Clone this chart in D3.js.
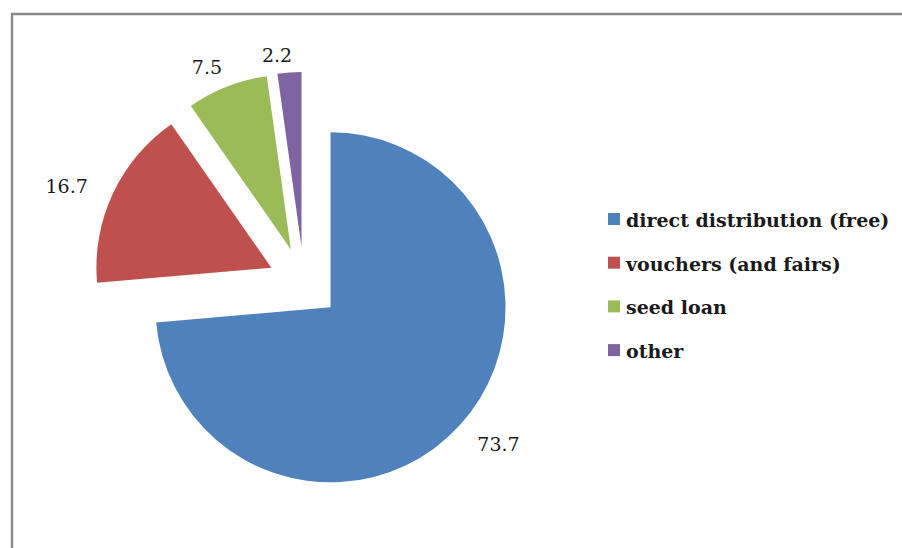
<!DOCTYPE html>
<html>
<head>
<meta charset="utf-8">
<script src="https://cdn.jsdelivr.net/npm/d3@7"></script>
<style>
  html, body { margin: 0; padding: 0; background: #fff; }
  svg { display: block; }
  text { font-family: "DejaVu Serif", "Liberation Serif", serif; fill: #1a1a1a; }
</style>
</head>
<body>
<svg id="chart" width="902" height="548"></svg>
<script>
const categories = ["direct distribution (free)", "vouchers (and fairs)", "seed loan", "other"];
const values = [73.7, 16.7, 7.5, 2.2];
const labels = ["73.7", "16.7", "7.5", "2.2"];
const colors = ["#4F81BD", "#C0504D", "#9BBB59", "#8064A2"];

const W = 902, H = 548;
const svg = d3.select("#chart");

// frame
svg.append("path")
  .attr("d", `M12,${H + 5} L12,14 L${W + 5},14`)
  .attr("fill", "none")
  .attr("stroke", "#8a8a8a")
  .attr("stroke-width", 2.4);

const cx = 304, cy = 283, R = 175, explode = 36, labelGap = 7;
const labelAngleShift = -3.3 * Math.PI / 180;

const pie = d3.pie().sort(null).value(d => d).startAngle(0).endAngle(2 * Math.PI);
const arcs = pie(values);
const arc = d3.arc().innerRadius(0).outerRadius(R);

const g = svg.append("g").attr("transform", `translate(${cx},${cy})`);

const slice = g.selectAll("g.slice").data(arcs).enter().append("g")
  .attr("class", "slice")
  .attr("transform", d => {
    const a = (d.startAngle + d.endAngle) / 2;
    return `translate(${explode * Math.sin(a)},${-explode * Math.cos(a)})`;
  });

slice.append("path")
  .attr("d", arc)
  .attr("fill", (d, i) => colors[i]);

// labels outside end
slice.append("text")
  .attr("font-size", 19)
  .attr("text-anchor", "middle")
  .attr("dy", "0.36em")
  .text((d, i) => labels[i])
  .each(function(d) {
    const a = (d.startAngle + d.endAngle) / 2 + labelAngleShift;
    const ux = Math.sin(a), uy = -Math.cos(a);
    const bb = this.getBBox();
    const ext = Math.abs(ux) * bb.width * 0.9 + Math.abs(uy) * bb.height * 0.38;
    const r = R + labelGap + ext;
    d3.select(this).attr("x", r * ux).attr("y", r * uy);
  });

// legend
const legend = svg.append("g").attr("transform", "translate(608,227)");
const items = legend.selectAll("g").data(categories).enter().append("g")
  .attr("transform", (d, i) => `translate(0,${i * 43.7})`);
items.append("rect")
  .attr("x", 0).attr("y", -14).attr("width", 12).attr("height", 12)
  .attr("fill", (d, i) => colors[i]);
items.append("text")
  .attr("x", 18).attr("y", 0)
  .attr("font-size", 19)
  .attr("font-weight", "bold")
  .text(d => d);
</script>
</body>
</html>
